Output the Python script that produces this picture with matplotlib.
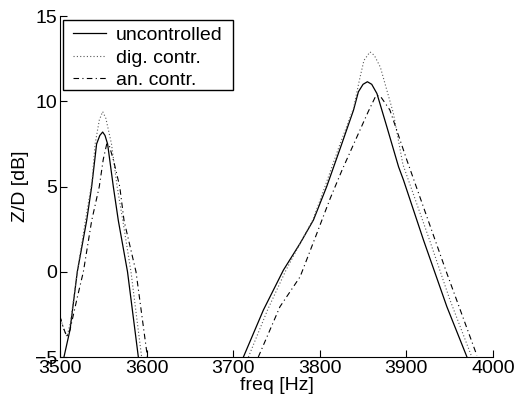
import numpy as np
import matplotlib
matplotlib.use('Agg')
import matplotlib.pyplot as plt
from matplotlib.patches import Rectangle

plt.rcParams['font.family'] = ['Liberation Sans', 'DejaVu Sans']

# uncontrolled (two resonance peaks, gap between them)
unc_f = [3504.6, 3511.6, 3520, 3530.8, 3536.6, 3542.3, 3546, 3549.3, 3552, 3555, 3561.6, 3567.4, 3578, 3590.5,
         np.nan,
         3711.8, 3734.9, 3758, 3777.3, 3792.7, 3808, 3824, 3839, 3844.6, 3850, 3855, 3860, 3866, 3877.5,
         3891, 3896.7, 3919.8, 3946.8, 3970]
unc_db = [-5, -3.4, 0, 3.0, 5.0, 7.5, 8.0, 8.2, 8.0, 7.5, 5.0, 3.0, 0, -5,
          np.nan,
          -5, -2.24, 0.1, 1.67, 3.04, 5.0, 7.3, 9.49, 10.56, 11.0, 11.15, 11.0, 10.46, 8.5,
          6.16, 5.38, 1.86, -2.05, -5]

# digital control
dig_f = [3500, 3504, 3508, 3512, 3520, 3530, 3537, 3540.6, 3545.4, 3549.3, 3553, 3559.5, 3566, 3572.6, 3582, 3594.3,
         np.nan,
         3717.6, 3740, 3761, 3777.3, 3792, 3806, 3822, 3839, 3846, 3851, 3858, 3863, 3870, 3885,
         3896, 3926.8, 3950, 3975.6]
dig_db = [-2.6, -3.3, -3.8, -3.0, 0, 3.2, 5.3, 7.5, 8.9, 9.4, 9.0, 7.5, 5.0, 3.0, 0, -5,
          np.nan,
          -5, -2.2, 0.1, 1.67, 3.04, 5.0, 7.3, 9.6, 11.3, 12.4, 12.9, 12.7, 12.0, 9.3,
          6.3, 1.86, -1.6, -5]

# analog control
an_f = [3500, 3504, 3508, 3511.6, 3520, 3527, 3536.6, 3545.4, 3550, 3554, 3557, 3562, 3569, 3574, 3587.8, 3601,
        np.nan,
        3729, 3754, 3777.3, 3796.6, 3812, 3826, 3841, 3856, 3865, 3870, 3881, 3900.6, 3923.7, 3946.8, 3981.4]
an_db = [-2.6, -3.3, -3.8, -3.4, -1.5, 0, 3.0, 5.0, 6.6, 7.5, 7.4, 6.5, 5.0, 3.0, 0, -5,
         np.nan,
         -5, -2.05, -0.29, 2.25, 4.3, 6.0, 7.7, 9.4, 10.35, 10.3, 9.49, 6.55, 3.23, -0.09, -4.9]

xticks = [3500, 3600, 3700, 3800, 3900, 4000]
yticks = [-5, 0, 5, 10, 15]

fig = plt.figure(figsize=(5.17, 4.03), dpi=100)
ax = fig.add_axes([0.116, 0.114, 0.8375, 0.846])

ax.plot(unc_f, unc_db, color='black', lw=0.9, ls='-', label='uncontrolled')
ax.plot(dig_f, dig_db, color='0.35', lw=0.8, ls=(0, (1, 2)), label='dig. contr.')
ax.plot(an_f, an_db, color='black', lw=0.8, ls=(0, (5, 3, 1, 3)), label='an. contr.')

ax.set_xlim(3500, 4000)
ax.set_ylim(-5, 15)
ax.set_xticks(xticks)
ax.set_yticks(yticks)
ax.set_yticklabels(['\u22125', '0', '5', '10', '15'])
ax.tick_params(direction='in', length=5, labelsize=14, pad=2, width=0.8)
ax.spines['top'].set_visible(False)
ax.spines['right'].set_visible(False)
ax.set_xlabel('freq [Hz]', fontsize=14, labelpad=0)
ax.set_ylabel('Z/D [dB]', fontsize=14, labelpad=4)

# legend box drawn separately so the padding can be wide but short
ax.add_patch(Rectangle((0.0062, 0.783), 0.393, 0.207, transform=ax.transAxes,
                       facecolor='white', edgecolor='black', lw=1.0, zorder=4))
leg = ax.legend(loc='upper left', bbox_to_anchor=(0.030, 0.969), borderaxespad=0,
                fontsize=14, frameon=False, borderpad=0,
                handlelength=1.7, handletextpad=0.5, labelspacing=0.24)
leg.set_zorder(5)

fig.savefig('out.png', dpi=100)
